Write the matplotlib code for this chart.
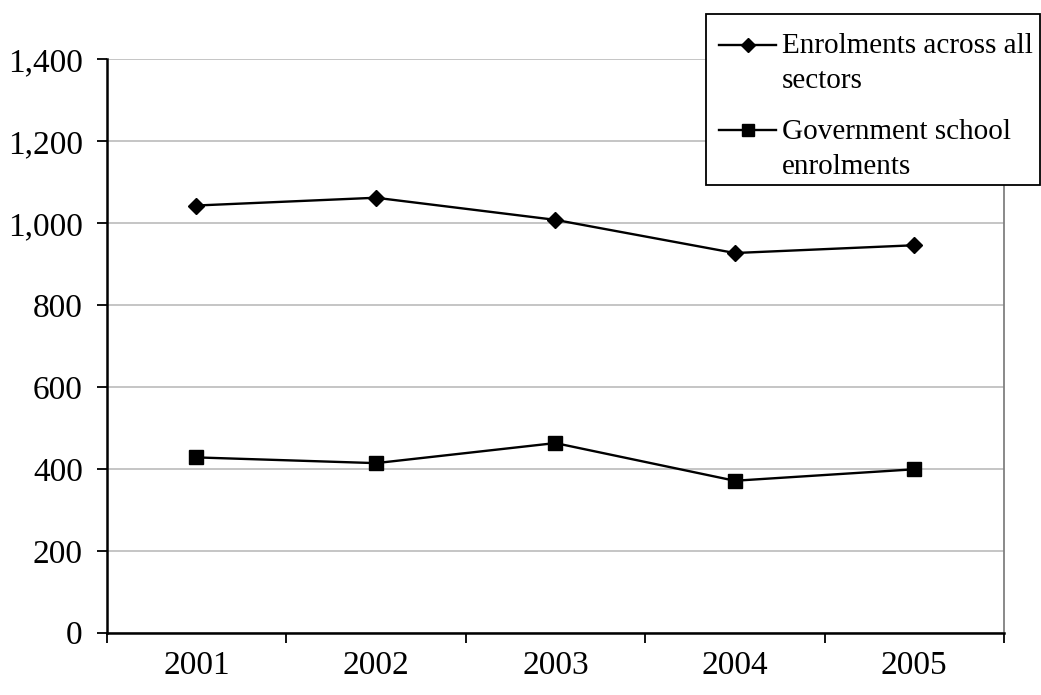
import matplotlib
matplotlib.use("Agg")
import matplotlib.pyplot as plt
from matplotlib.lines import Line2D
from matplotlib.patches import Rectangle
from matplotlib.ticker import FuncFormatter, FixedLocator

# ---- data ----
years = ["2001", "2002", "2003", "2004", "2005"]
all_sectors = [1043, 1062, 1008, 927, 946]
government = [428, 414, 463, 371, 399]
series_labels = ["Enrolments across all\nsectors", "Government school\nenrolments"]
y_ticks = [0, 200, 400, 600, 800, 1000, 1200, 1400]

W, H = 1041, 695
plt.rcParams['font.family'] = ['Liberation Serif', 'DejaVu Serif']
fig = plt.figure(figsize=(W / 100, H / 100), dpi=100)

def fx(px):
    return px / W

def fy(py):
    return 1 - py / H

left, right, top, bottom = 106.7, 1004, 59.3, 632.7
ax = fig.add_axes([fx(left), fy(bottom), fx(right) - fx(left), fy(top) - fy(bottom)])

x = list(range(len(years)))
ax.plot(x, all_sectors, color='black', lw=1.7, marker='D', ms=8.5, mfc='black', mec='black', zorder=3)
ax.plot(x, government, color='black', lw=1.7, marker='s', ms=10.5, mfc='black', mec='black', zorder=3)

ax.set_xlim(-0.5, len(years) - 0.5)
ax.set_ylim(0, 1400)
ax.set_yticks(y_ticks)
ax.yaxis.set_major_formatter(FuncFormatter(lambda v, p: f"{int(v):,}"))
ax.grid(axis='y', color='#c0c0c0', lw=1.3, zorder=0)
ax.set_axisbelow(True)

# category boundaries as major ticks, labels on minor ticks
ax.xaxis.set_major_locator(FixedLocator([i - 0.5 for i in range(len(years) + 1)]))
ax.xaxis.set_minor_locator(FixedLocator(x))
ax.set_xticklabels([], minor=False)
ax.set_xticks(x, minor=True)
ax.set_xticklabels(years, minor=True)
ax.tick_params(axis='x', which='major', length=7.2, width=1.3, direction='out', color='black')
ax.tick_params(axis='x', which='minor', length=0, pad=12.5, labelsize=24)
ax.tick_params(axis='y', which='major', length=7.2, width=1.3, direction='out', pad=10, labelsize=24)

for s in ['left', 'bottom']:
    ax.spines[s].set_color('black')
    ax.spines[s].set_linewidth(1.8)
for s in ['top', 'right']:
    ax.spines[s].set_color('#808080')
    ax.spines[s].set_linewidth(1.3)
ax.spines['top'].set_visible(False)

# ---- legend (manual, in figure pixels) ----
lx0, ly0, lx1, ly1 = 706, 14, 1039.5, 185
fig.patches.append(Rectangle((fx(lx0), fy(ly1)), fx(lx1) - fx(lx0), fy(ly0) - fy(ly1),
                             transform=fig.transFigure, facecolor='white', edgecolor='black',
                             lw=1.3, zorder=5))
markers = [('D', 7.5), ('s', 9)]
handle_y = [45, 130]
text_top = [33, 119]
for lab, (mk, ms), hy, ty in zip(series_labels, markers, handle_y, text_top):
    fig.add_artist(Line2D([fx(719), fx(776)], [fy(hy), fy(hy)], transform=fig.transFigure,
                          color='black', lw=1.7, zorder=6))
    fig.add_artist(Line2D([fx(747.5)], [fy(hy)], transform=fig.transFigure, marker=mk, ms=ms,
                          color='black', lw=0, zorder=7))
    fig.text(fx(782), fy(ty), lab, fontsize=21, va='top', ha='left', linespacing=1.45, zorder=7)

fig.savefig("out.png", dpi=100)
